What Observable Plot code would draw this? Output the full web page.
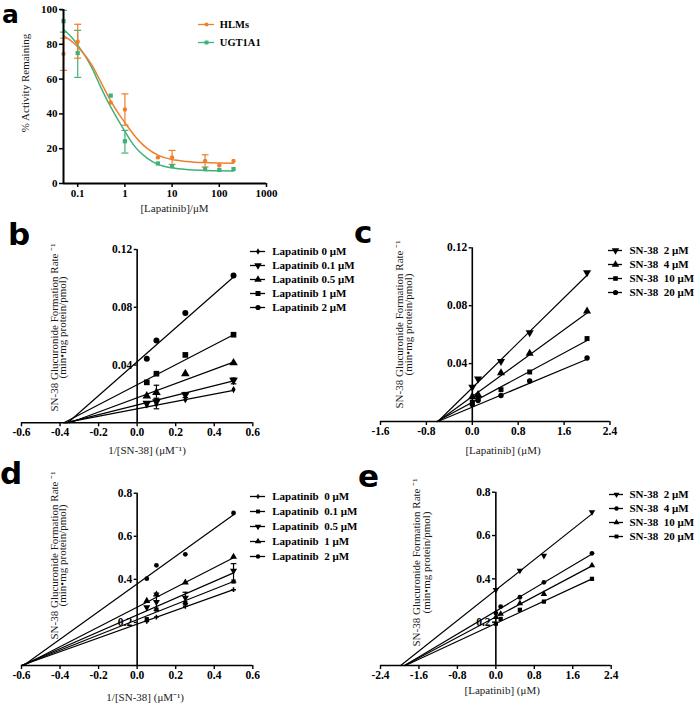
<!DOCTYPE html>
<html><head><meta charset="utf-8">
<script src="https://cdn.jsdelivr.net/npm/d3@7"></script>
<script src="https://cdn.jsdelivr.net/npm/@observablehq/plot@0.6"></script>
<style>
body{margin:0;background:#fff;}
#root{position:relative;width:697px;height:703px;overflow:hidden;background:#fff;}
.pane{position:absolute;}
.pane svg{overflow:visible;max-width:none;}
.pane svg g:not([font-weight="normal"]) > text{font-weight:bold !important;font-family:"Liberation Serif","Times New Roman",serif !important;}
.lab{position:absolute;font-family:"DejaVu Sans",sans-serif;font-weight:700;line-height:16px;color:#000;}
</style></head><body><div id="root"></div><script>
// ---------- Panel a data ----------
const lapA = [0.05, 0.1, 0.5, 1, 5, 10, 50, 100, 200];
const hlmMean = [74.5, 81.5, 46.5, 42.5, 15, 15, 13, 10.5, 13];
const hlmLo   = [65, 72, null, 33.5, null, 11, 9.5, null, null];
const hlmHi   = [83.5, 91.5, null, 51.5, null, 19, 16.5, null, null];
const ugtMean = [93.3, 75, 50.5, 24.3, 11.5, 10, 8.3, 7.8, 8.3];
const ugtLo   = [87, 61, null, 17.5, null, null, null, null, null];
const ugtHi   = [99.5, 88, null, 30.5, null, null, null, null, null];
const curveX   = [0.05, 0.08, 0.1, 0.15, 0.2, 0.3, 0.5, 0.7, 1, 1.5, 2, 3, 5, 10, 20, 50, 100, 200];
const hlmCurve = [85, 81, 78.5, 73, 68, 59, 47.5, 41, 35, 28.5, 24.5, 20, 16.3, 13.8, 12.7, 12, 11.8, 11.7];
const ugtCurve = [88.5, 83, 79.5, 72.5, 66.5, 56, 44, 37, 30, 22.5, 18.5, 14.5, 11, 9, 8, 7.5, 7.3, 7.2];
const aLabels = ["HLMs", "UGT1A1"];
const aXTicks = [0.1, 1, 10, 100, 1000];
const aYTicks = [0, 20, 40, 60, 80, 100];

// ---------- Panel b data ----------
const invSN38 = [0.05, 0.1, 0.25, 0.5];
const bLabels = ["Lapatinib 0 μM", "Lapatinib 0.1 μM", "Lapatinib 0.5 μM", "Lapatinib 1 μM", "Lapatinib 2 μM"];
const bVals = [
  [0.0125, 0.013, 0.016, 0.023],
  [0.0135, 0.0145, 0.0195, 0.0295],
  [0.0185, 0.021, 0.034, 0.0415],
  [0.028, 0.034, 0.047, 0.061],
  [0.0444, 0.057, 0.076, 0.102]
];
const bFitX0 = [-0.38, -0.37, -0.35, -0.38, -0.36];
const bFitEnd = [0.0225, 0.029, 0.042, 0.061, 0.101];
const bErrX = [0.1, 0.1, 0.5, 0.25];
const bErrLo = [0.017, 0.0097, 0.027, 0.0175];
const bErrHi = [0.026, 0.0165, 0.031, 0.021];

// ---------- Panel c data ----------
const lapC = [0, 0.1, 0.5, 1, 2];
const cLabels = ["SN-38  2 μM", "SN-38  4 μM", "SN-38  10 μM", "SN-38  20 μM"];
const cVals = [
  [0.0238, 0.0295, 0.0416, 0.0615, 0.1028],
  [0.0172, 0.0185, 0.0335, 0.047, 0.0762],
  [0.0134, 0.016, 0.022, 0.0342, 0.0573],
  [0.0118, 0.0145, 0.018, 0.028, 0.0439]
];
const cFitX0 = [-0.6, -0.6, -0.62, -0.6];
const cFitEnd = [0.101, 0.075, 0.056, 0.043];

// ---------- Panel d data ----------
const dLabels = ["Lapatinib  0 μM", "Lapatinib  0.1 μM", "Lapatinib  0.5 μM", "Lapatinib  1 μM", "Lapatinib  2 μM"];
const dVals = [
  [0.205, 0.225, 0.275, 0.352],
  [0.215, 0.26, 0.29, 0.39],
  [0.27, 0.295, 0.315, 0.44],
  [0.30, 0.33, 0.385, 0.505],
  [0.403, 0.465, 0.516, 0.708]
];
const dFitX0 = [-0.6, -0.6, -0.6, -0.59, -0.59];
const dFitEnd = [0.352, 0.39, 0.43, 0.50, 0.70];
const dErrX = [0.5, 0.1, 0.25];
const dErrLo = [0.387, 0.256, 0.287];
const dErrHi = [0.473, 0.336, 0.34];

// ---------- Panel e data ----------
const eLabels = ["SN-38  2 μM", "SN-38  4 μM", "SN-38  10 μM", "SN-38  20 μM"];
const eVals = [
  [0.349, null, 0.438, 0.507, 0.708],
  [0.242, 0.272, 0.315, 0.384, 0.518],
  [0.223, 0.238, 0.287, 0.33, 0.462],
  [0.193, 0.215, 0.257, 0.295, 0.40]
];
const eFitX0 = [-1.98, -1.9, -1.9, -1.88];
const eFitEnd = [0.70, 0.515, 0.46, 0.40];

const orange = "#f07f2d", green = "#3fb27a";

// ---------- symbols ----------
const s3 = Math.sqrt(3);
const triDown = {draw(ctx, size) { const y = -Math.sqrt(size / (s3 * 3)); ctx.moveTo(0, -y * 2); ctx.lineTo(-s3 * y, y); ctx.lineTo(s3 * y, y); ctx.closePath(); }};
const capSym = {draw(ctx, size) { const w = Math.sqrt(size / Math.PI); ctx.moveTo(-w, 0); ctx.lineTo(w, 0); }};
const S = {circle: d3.symbolCircle, square: d3.symbolSquare, triUp: d3.symbolTriangle, triDown, diamond: d3.symbolDiamond, cross: d3.symbolCross};

const root = document.getElementById("root");
const SERIF = '"Liberation Serif","Times New Roman",serif';
function mk(opts) {
  return Plot.plot({...opts, style: {fontFamily: SERIF, fontSize: "11px", fontWeight: "bold", color: "black", background: "transparent", overflow: "visible"}});
}
function place(el, left, top) {
  const d = document.createElement("div"); d.className = "pane";
  d.style.left = left + "px"; d.style.top = top + "px";
  d.appendChild(el); root.appendChild(d);
}
// DejaVu Sans: ascent ~0.928, descent ~0.236 (em)
function label(t, left, baseline, size) {
  const d = document.createElement("div"); d.className = "lab"; d.textContent = t;
  d.style.fontSize = size + "px";
  d.style.left = left + "px";
  d.style.top = (baseline - (16 - 1.164 * size) / 2 - 0.928 * size) + "px";
  root.appendChild(d);
}
function textAt(t, px, py, box, ml, mt, extra) {
  return Plot.text([t], {text: d => d, frameAnchor: "top-left", dx: px - box.left - ml, dy: py - box.top - mt,
    textAnchor: "middle", lineAnchor: "middle", fontWeight: "normal", fontSize: 11, fill: "#1a1a1a", ...extra});
}
function errMarks(xs, lo, hi, color, capR) {
  const e = xs.map((x, i) => ({x, lo: lo[i], hi: hi[i]})).filter(d => d.lo != null);
  return [
    Plot.ruleX(e, {x: "x", y1: "lo", y2: "hi", stroke: color, strokeWidth: 1.2}),
    Plot.dot(e, {x: "x", y: "lo", symbol: capSym, r: capR, fill: "none", stroke: color, strokeWidth: 1.2}),
    Plot.dot(e, {x: "x", y: "hi", symbol: capSym, r: capR, fill: "none", stroke: color, strokeWidth: 1.2})
  ];
}
function legend({left, top, width, height, labels, symbols, r, colors, lineX, textX, rowY, fontSize}) {
  const marks = [];
  labels.forEach((lab, i) => {
    marks.push(Plot.ruleY([lab], {y: d => d, x1: 0, x2: 1, stroke: colors[i], strokeWidth: 1.3}));
    marks.push(Plot.dot([lab], {x: () => 0.5, y: d => d, symbol: symbols[i], r: r[i], fill: colors[i], stroke: "none"}));
  });
  marks.push(Plot.text(labels, {x: () => 1, y: d => d, text: d => d, dx: textX - lineX[1], textAnchor: "start", fontSize}));
  place(mk({width, height, margin: 0,
    x: {domain: [0, 1], range: [lineX[0] - left, lineX[1] - left], axis: null},
    y: {type: "point", domain: labels, range: [rowY[0] - top, rowY[1] - top], padding: 0, axis: null},
    marks}), left, top);
}

// ---------- Panel a ----------
(function () {
  const box = {left: 0, top: 0, width: 360, height: 225};
  const ml = 63, mr = 360 - 266, mt = 9, mb = 225 - 183;
  const hlm = lapA.map((x, i) => ({x, y: hlmMean[i]}));
  const ugt = lapA.map((x, i) => ({x, y: ugtMean[i]}));
  const hc = curveX.map((x, i) => ({x, y: hlmCurve[i]}));
  const uc = curveX.map((x, i) => ({x, y: ugtCurve[i]}));
  const marks = [
    ...errMarks(lapA, ugtLo, ugtHi, green, 3.5),
    ...errMarks(lapA, hlmLo, hlmHi, orange, 3.5),
    Plot.line(uc, {x: "x", y: "y", stroke: green, strokeWidth: 1.5, curve: "monotone-x"}),
    Plot.line(hc, {x: "x", y: "y", stroke: orange, strokeWidth: 1.5, curve: "monotone-x"}),
    Plot.dot(ugt, {x: "x", y: "y", symbol: S.square, r: 2.4, fill: green, stroke: "none"}),
    Plot.dot(hlm, {x: "x", y: "y", symbol: S.circle, r: 2.2, fill: orange, stroke: "none"}),
    Plot.ruleY([0], {strokeWidth: 2}),
    Plot.ruleX([0.05], {strokeWidth: 2}),
    Plot.axisX({ticks: aXTicks, tickFormat: d => String(d), tickSize: 4, tickPadding: 2, label: null, strokeWidth: 1.5, fontSize: 11, fontWeight: "bold"}),
    Plot.axisY({ticks: aYTicks, tickFormat: d => String(d), tickSize: 4, tickPadding: 2, label: null, strokeWidth: 1.5, fontSize: 11, fontWeight: "bold"}),
    textAt("[Lapatinib]/μM", 174, 208, box, ml, mt),
    textAt("% Activity Remaining", 25.3, 82.5, box, ml, mt, {rotate: -90})
  ];
  place(mk({width: box.width, height: box.height, marginLeft: ml, marginRight: mr, marginTop: mt, marginBottom: mb,
    x: {type: "log", domain: [0.05, 1000]}, y: {domain: [0, 100]}, marks}), box.left, box.top);
  legend({left: 190, top: 10, width: 100, height: 45, labels: aLabels, symbols: [S.circle, S.square], r: [2, 2.2],
    colors: [orange, green], lineX: [198, 214], textX: 219.3, rowY: [23.3, 42.3], fontSize: 10.5});
})();

// ---------- kinetic panels ----------
function kinetic(c) {
  const box = c.box;
  const ml = c.axisPx - box.left, mt = c.yPx[1] - box.top, mb = box.top + box.height - c.yPx[0], mr = 0;
  const marks = [];
  c.labels.forEach((lab, i) => {
    const fit = [{x: c.fitX0[i], y: 0}, {x: c.fitXEnd, y: c.fitEnd[i]}];
    marks.push(Plot.line(fit, {x: "x", y: "y", stroke: "black", strokeWidth: 1.2}));
  });
  if (c.errX) marks.push(...errMarks(c.errX, c.errLo, c.errHi, "black", 2.8));
  c.labels.forEach((lab, i) => {
    const pts = c.xVals.map((x, j) => ({x, y: c.vals[i][j]})).filter(d => d.y != null);
    marks.push(Plot.dot(pts, {x: "x", y: "y", symbol: c.symbols[i], r: c.r[i], fill: "black", stroke: "none"}));
  });
  marks.push(
    Plot.ruleY([0], {x1: c.xDomain[0], x2: c.xDomain[1], strokeWidth: 1.6}),
    Plot.ruleX([0], {y1: c.yDomain[0], y2: c.yDomain[1], strokeWidth: 1.6}),
    Plot.axisX({ticks: c.xTicks, tickFormat: d => d.toFixed(1), tickSize: 4, tickPadding: 1, label: null, strokeWidth: 1.4, fontSize: 11.5, fontWeight: "bold"}),
    Plot.axisY({ticks: c.yTicks, tickFormat: d => d.toFixed(c.yDec), tickSize: 3, tickPadding: 2, label: null, strokeWidth: 1.4, fontSize: 11.5, fontWeight: "bold"}),
    textAt(c.xTitle, c.xTitlePos[0], c.xTitlePos[1], box, ml, mt),
    textAt("SN-38 Glucuronide Formation Rate ⁻¹", c.yTitleX[0], c.yTitleY, box, ml, mt, {rotate: -90}),
    textAt("(min•mg protein/pmol)", c.yTitleX[1], c.yTitleY, box, ml, mt, {rotate: -90})
  );
  place(mk({width: box.width, height: box.height, marginLeft: ml, marginRight: mr, marginTop: mt, marginBottom: mb,
    x: {domain: c.xDomain, range: [c.xPx[0] - box.left, c.xPx[1] - box.left]},
    y: {domain: c.yDomain}, marks}), box.left, box.top);
}

kinetic({box: {left: 0, top: 225, width: 360, height: 235}, axisPx: 136.7, xPx: [21, 252.3], yPx: [422.3, 249],
  xDomain: [-0.6, 0.6], yDomain: [0, 0.12], xTicks: [-0.6, -0.4, -0.2, 0, 0.2, 0.4, 0.6], yTicks: [0.04, 0.08, 0.12], yDec: 2,
  xVals: invSN38, labels: bLabels, vals: bVals, symbols: [S.diamond, S.triDown, S.triUp, S.square, S.circle], r: [2.2, 3.2, 3.2, 3.2, 3],
  fitX0: bFitX0, fitEnd: bFitEnd, fitXEnd: 0.5, errX: bErrX, errLo: bErrLo, errHi: bErrHi,
  xTitle: "1/[SN-38] (μM⁻¹)", xTitlePos: [146.5, 450], yTitleX: [53.5, 62], yTitleY: 327});
legend({left: 245, top: 240, width: 115, height: 75, labels: bLabels, symbols: [S.diamond, S.triDown, S.triUp, S.square, S.circle],
  r: [2, 2.8, 2.8, 2.8, 2.6], colors: Array(5).fill("black"), lineX: [250, 265], textX: 271.7, rowY: [250.7, 307.7], fontSize: 11});

kinetic({box: {left: 360, top: 225, width: 337, height: 235}, axisPx: 471.7, xPx: [380, 609.5], yPx: [421, 247.3],
  xDomain: [-1.6, 2.4], yDomain: [0, 0.12], xTicks: [-1.6, -0.8, 0, 0.8, 1.6, 2.4], yTicks: [0.04, 0.08, 0.12], yDec: 2,
  xVals: lapC, labels: cLabels, vals: cVals, symbols: [S.triDown, S.triUp, S.square, S.circle], r: [3, 3, 2.8, 2.7],
  fitX0: cFitX0, fitEnd: cFitEnd, fitXEnd: 2,
  xTitle: "[Lapatinib] (μM)", xTitlePos: [502.5, 450], yTitleX: [399, 407.5], yTitleY: 324});
legend({left: 600, top: 240, width: 97, height: 65, labels: cLabels, symbols: [S.triDown, S.triUp, S.square, S.circle],
  r: [2.8, 2.8, 2.6, 2.6], colors: Array(4).fill("black"), lineX: [608, 622], textX: 629, rowY: [250, 292.7], fontSize: 11});

kinetic({box: {left: 0, top: 455, width: 360, height: 248}, axisPx: 136.7, xPx: [21, 252.3], yPx: [665, 492.7],
  xDomain: [-0.6, 0.6], yDomain: [0, 0.8], xTicks: [-0.6, -0.4, -0.2, 0, 0.2, 0.4, 0.6], yTicks: [0.2, 0.4, 0.6, 0.8], yDec: 1,
  xVals: invSN38, labels: dLabels, vals: dVals, symbols: [S.cross, S.square, S.triDown, S.triUp, S.circle], r: [2, 2.4, 2.6, 2.6, 2.4],
  fitX0: dFitX0, fitEnd: dFitEnd, fitXEnd: 0.5, errX: dErrX, errLo: dErrLo, errHi: dErrHi,
  xTitle: "1/[SN-38] (μM⁻¹)", xTitlePos: [144.7, 696.5], yTitleX: [53.5, 62], yTitleY: 555});
legend({left: 245, top: 484, width: 115, height: 85, labels: dLabels, symbols: [S.cross, S.square, S.triDown, S.triUp, S.circle],
  r: [1.8, 2.2, 2.4, 2.4, 2.2], colors: Array(5).fill("black"), lineX: [250, 265], textX: 271.7, rowY: [494, 557.7], fontSize: 11});

kinetic({box: {left: 360, top: 455, width: 337, height: 248}, axisPx: 495, xPx: [380, 610.7], yPx: [665, 491.7],
  xDomain: [-2.4, 2.4], yDomain: [0, 0.8], xTicks: [-2.4, -1.6, -0.8, 0, 0.8, 1.6, 2.4], yTicks: [0.2, 0.4, 0.6, 0.8], yDec: 1,
  xVals: lapC, labels: eLabels, vals: eVals, symbols: [S.triDown, S.circle, S.triUp, S.square], r: [2.4, 2.4, 2.4, 2.4],
  fitX0: eFitX0, fitEnd: eFitEnd, fitXEnd: 2,
  xTitle: "[Lapatinib] (μM)", xTitlePos: [501.7, 690], yTitleX: [416, 425.7], yTitleY: 562});
legend({left: 600, top: 484, width: 97, height: 62, labels: eLabels, symbols: [S.triDown, S.circle, S.triUp, S.square],
  r: [2.2, 2.2, 2.2, 2.2], colors: Array(4).fill("black"), lineX: [609, 623], textX: 629, rowY: [494, 536.7], fontSize: 11});

// panel letters
label("a", 2, 24, 25);
label("b", 8, 245, 31);
label("c", 354, 243, 31);
label("d", 0, 484, 31);
label("e", 358, 487, 31);
</script></body></html>
